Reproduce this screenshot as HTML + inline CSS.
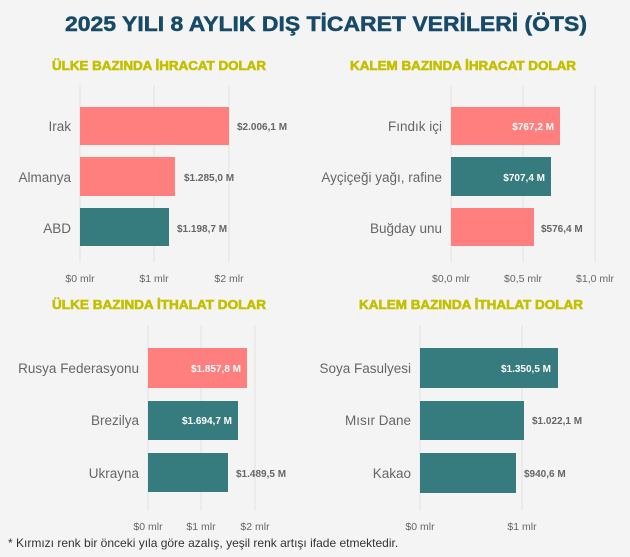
<!DOCTYPE html>
<html><head><meta charset="utf-8"><style>
html,body{margin:0;padding:0;background:#f4f4f4;}
svg{display:block;font-family:"Liberation Sans",sans-serif;}
.t{font-weight:bold;fill:#c4c000;stroke:#c4c000;stroke-width:0.6;font-size:12.5px;text-anchor:middle;}
.c{fill:#666;font-size:13.5px;text-anchor:end;}
.k{fill:#666;font-size:10.5px;text-anchor:middle;}
.v{fill:#666;font-size:10px;font-weight:bold;}
.w{fill:#fff;font-size:10px;font-weight:bold;text-anchor:end;}
.g{stroke:#e2e2e2;stroke-width:1;}
</style></head><body>
<svg width="630" height="557" viewBox="0 0 630 557">
<rect width="630" height="557" fill="#f4f4f4"/>
<text x="326" y="31" text-anchor="middle" font-size="21.5" font-weight="bold" fill="#164a68" stroke="#164a68" stroke-width="0.5" textLength="522" lengthAdjust="spacingAndGlyphs">2025 YILI 8 AYLIK DIŞ TİCARET VERİLERİ (ÖTS)</text>

<!-- Panel 1 -->
<text class="t" x="159" y="70" textLength="214" lengthAdjust="spacingAndGlyphs">ÜLKE BAZINDA İHRACAT DOLAR</text>
<line class="g" x1="80" y1="85" x2="80" y2="262"/><line class="g" x1="154" y1="85" x2="154" y2="262"/><line class="g" x1="229" y1="85" x2="229" y2="262"/>
<rect x="80" y="107" width="149" height="38" fill="#ff7f7f"/>
<rect x="80" y="157" width="95" height="39" fill="#ff7f7f"/>
<rect x="80" y="208" width="89" height="38" fill="#367b7e"/>
<text class="c" x="71" y="131">Irak</text><text class="c" x="71" y="182">Almanya</text><text class="c" x="71" y="233">ABD</text>
<text class="v" x="237" y="130">$2.006,1 M</text><text class="v" x="184" y="181">$1.285,0 M</text><text class="v" x="177" y="232">$1.198,7 M</text>
<text class="k" x="80" y="282">$0 mlr</text><text class="k" x="154" y="282">$1 mlr</text><text class="k" x="229" y="282">$2 mlr</text>

<!-- Panel 2 -->
<text class="t" x="463" y="70" textLength="226" lengthAdjust="spacingAndGlyphs">KALEM BAZINDA İHRACAT DOLAR</text>
<line class="g" x1="451" y1="85" x2="451" y2="262"/><line class="g" x1="523" y1="85" x2="523" y2="262"/><line class="g" x1="595" y1="85" x2="595" y2="262"/>
<rect x="451" y="107" width="109" height="38" fill="#ff7f7f"/>
<rect x="451" y="157" width="100" height="39" fill="#367b7e"/>
<rect x="451" y="208" width="83" height="38" fill="#ff7f7f"/>
<text class="c" x="442" y="131">Fındık içi</text><text class="c" x="442" y="182">Ayçiçeği yağı, rafine</text><text class="c" x="442" y="233">Buğday unu</text>
<text class="w" x="554" y="130">$767,2 M</text><text class="w" x="545" y="181">$707,4 M</text><text class="v" x="541" y="232">$576,4 M</text>
<text class="k" x="451" y="282">$0,0 mlr</text><text class="k" x="523" y="282">$0,5 mlr</text><text class="k" x="595" y="282">$1,0 mlr</text>

<!-- Panel 3 -->
<text class="t" x="159" y="309" textLength="214" lengthAdjust="spacingAndGlyphs">ÜLKE BAZINDA İTHALAT DOLAR</text>
<line class="g" x1="148" y1="325" x2="148" y2="510"/><line class="g" x1="201" y1="325" x2="201" y2="510"/><line class="g" x1="255" y1="325" x2="255" y2="510"/>
<rect x="148" y="348" width="99" height="40" fill="#ff7f7f"/>
<rect x="148" y="401" width="90" height="39" fill="#367b7e"/>
<rect x="148" y="453" width="80" height="39" fill="#367b7e"/>
<text class="c" x="139" y="373">Rusya Federasyonu</text><text class="c" x="139" y="425">Brezilya</text><text class="c" x="139" y="478">Ukrayna</text>
<text class="w" x="241" y="372">$1.857,8 M</text><text class="w" x="232" y="424">$1.694,7 M</text><text class="v" x="236" y="477">$1.489,5 M</text>
<text class="k" x="148" y="530">$0 mlr</text><text class="k" x="201" y="530">$1 mlr</text><text class="k" x="255" y="530">$2 mlr</text>

<!-- Panel 4 -->
<text class="t" x="471" y="309" textLength="224" lengthAdjust="spacingAndGlyphs">KALEM BAZINDA İTHALAT DOLAR</text>
<line class="g" x1="420" y1="325" x2="420" y2="510"/><line class="g" x1="522" y1="325" x2="522" y2="510"/>
<rect x="420" y="348" width="138" height="40" fill="#367b7e"/>
<rect x="420" y="401" width="104" height="39" fill="#367b7e"/>
<rect x="420" y="453" width="96" height="40" fill="#367b7e"/>
<text class="c" x="411" y="373">Soya Fasulyesi</text><text class="c" x="411" y="425">Mısır Dane</text><text class="c" x="411" y="478">Kakao</text>
<text class="w" x="551" y="372">$1.350,5 M</text><text class="v" x="532" y="424">$1.022,1 M</text><text class="v" x="524" y="477">$940,6 M</text>
<text class="k" x="420" y="530">$0 mlr</text><text class="k" x="522" y="530">$1 mlr</text>

<text x="8" y="547" font-size="12" fill="#333">* Kırmızı renk bir önceki yıla göre azalış, yeşil renk artışı ifade etmektedir.</text>
</svg>
</body></html>
